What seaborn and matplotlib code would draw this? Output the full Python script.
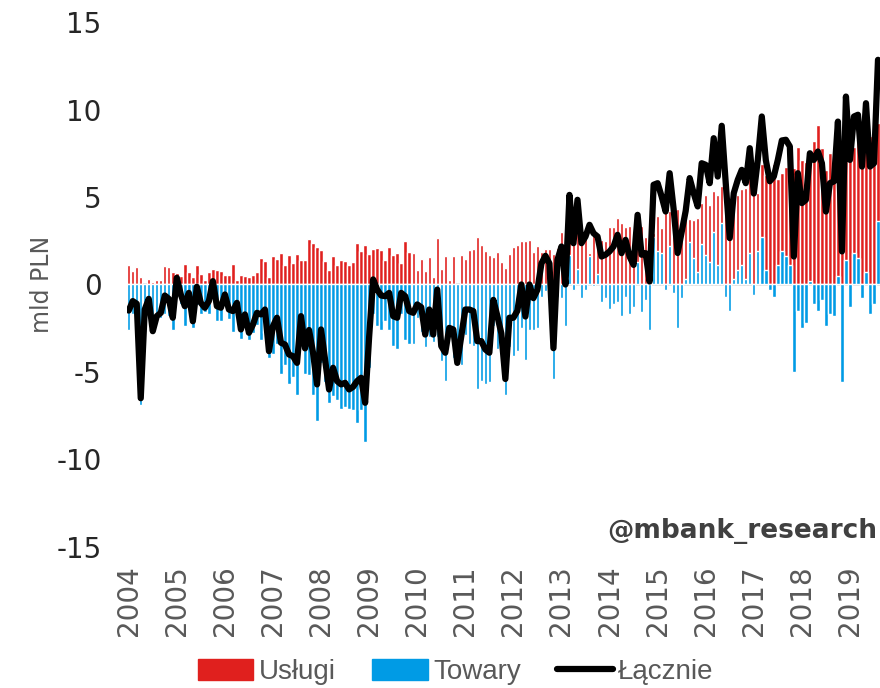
import numpy as np
import pandas as pd
import matplotlib
matplotlib.use("Agg")
import matplotlib.pyplot as plt
import seaborn as sns
from matplotlib.patches import Patch
from matplotlib.lines import Line2D

# monthly data, Jan 2004 - Aug 2019 (mld PLN)
uslugi = [
    1.14, 0.76, 0.99, 0.42, -0.1, 0.34, 0.15, 0.23, 0.23, 1.05,
    0.99, 0.7, 0.67, 0.5, 1.18, 0.7, 0.4, 1.09, 0.61, 0.27,
    0.7, 0.86, 0.84, 0.76, 0.53, 0.53, 1.16, 0.23, 0.55, 0.48,
    0.42, 0.55, 0.72, 1.49, 1.37, 0.42, 1.62, 1.47, 1.81, 1.14,
    1.66, 1.24, 1.77, 1.39, 1.41, 2.61, 2.38, 2.13, 1.96, 1.33,
    0.8, 1.62, 1.09, 1.39, 1.33, 1.1, 1.31, 2.38, 1.9, 2.27,
    1.77, 2.0, 2.1, 1.98, 1.39, 2.15, 1.7, 1.81, 1.24, 2.48,
    1.85, 1.79, 0.8, 1.43, 0.78, 1.58, 0.44, 2.67, 0.86, 1.62,
    0.23, 1.6, 0.05, 1.66, 1.47, 1.96, 2.0, 2.74, 2.27, 1.94,
    1.7, 1.55, 1.85, 1.26, 0.93, 1.73, 2.17, 2.27, 2.51, 2.51,
    2.55, 1.85, 2.21, 1.85, 2.02, 2.02, 1.75, 2.11, 2.99, 2.4,
    3.42, 2.66, 3.91, 3.14, 3.04, 1.8, 3.0, 2.19, 2.57, 2.46,
    3.28, 3.3, 3.8, 3.54, 3.28, 3.35, 2.38, 2.67, 3.34, 2.7,
    2.82, 2.96, 3.9, 3.2, 4.5, 4.19, 4.76, 4.3, 3.8, 3.9,
    3.72, 3.68, 3.81, 4.66, 5.11, 4.53, 5.33, 5.1, 5.6, 6.53,
    4.1, 4.92, 5.14, 5.48, 5.52, 6.0, 5.8, 5.25, 6.86, 6.28,
    6.2, 6.86, 6.05, 6.36, 6.71, 6.77, 6.63, 7.86, 7.11, 7.01,
    7.27, 8.19, 9.14, 7.81, 6.53, 7.52, 7.72, 8.85, 7.45, 9.37,
    8.38, 7.85, 8.25, 7.58, 9.62, 8.47, 8.03, 9.24,
]

towary = [
    -2.6, -1.7, -2.1, -6.9, -1.3, -1.2, -2.8, -2.0, -1.9, -1.7,
    -1.8, -2.6, -0.3, -1.1, -2.4, -1.2, -2.5, -1.2, -1.7, -1.6,
    -1.7, -0.7, -2.1, -2.1, -1.1, -2.0, -2.7, -1.3, -3.1, -2.2,
    -3.2, -2.8, -2.3, -3.2, -2.8, -4.2, -4.0, -3.4, -5.1, -4.6,
    -5.7, -5.3, -6.3, -3.2, -5.1, -5.2, -6.3, -7.8, -4.5, -5.6,
    -6.8, -6.4, -6.6, -7.1, -7.0, -7.1, -7.2, -7.9, -7.2, -9.0,
    -4.8, -1.7, -2.4, -2.6, -2.1, -2.6, -3.5, -3.7, -1.7, -3.2,
    -3.4, -3.4, -1.9, -2.7, -3.6, -3.0, -3.3, -3.0, -4.4, -5.5,
    -2.7, -4.2, -4.5, -4.6, -2.9, -3.4, -3.5, -6.0, -5.5, -5.7,
    -5.6, -2.4, -3.7, -4.1, -6.3, -3.6, -4.1, -3.8, -2.5, -4.3,
    -2.6, -2.6, -2.5, -0.7, -0.4, -0.8, -5.4, -0.7, -0.8, -2.4,
    1.7, -0.3, 0.9, -0.8, -0.3, 1.6, -0.1, 0.6, -1.0, -0.8,
    -1.4, -1.1, -1.0, -1.8, -0.7, -1.7, -1.3, 1.3, -1.6, -0.9,
    -2.6, 2.7, 1.9, 1.8, -0.3, 2.2, -0.5, -2.5, -0.8, 0.3,
    2.4, 1.5, 0.7, 2.3, 1.7, 1.3, 3.0, 1.1, 3.5, -0.7,
    -1.5, 0.3, 0.8, 1.1, 0.3, 1.8, -0.6, 1.9, 2.7, 0.8,
    -0.3, -0.7, 1.1, 1.9, 1.6, 1.1, -5.0, -1.5, -2.5, -2.2,
    0.2, -1.1, -1.5, -0.9, -2.4, -1.7, -1.8, 0.5, -5.6, 1.4,
    -1.3, 1.8, 1.5, -0.8, 0.7, -1.7, -1.1, 3.6,
]

lacznie = [
    -1.49, -0.95, -1.1, -6.5, -1.43, -0.82, -2.67, -1.81, -1.62, -0.63,
    -0.82, -1.9, 0.38, -0.57, -1.24, -0.48, -2.1, -0.13, -1.05, -1.33,
    -0.95, 0.19, -1.24, -1.33, -0.57, -1.43, -1.52, -1.05, -2.57, -1.71,
    -2.76, -2.29, -1.62, -1.71, -1.43, -3.81, -2.38, -1.9, -3.33, -3.43,
    -4.0, -4.1, -4.48, -1.81, -3.65, -2.6, -3.9, -5.71, -2.57, -4.29,
    -6.0, -4.76, -5.52, -5.71, -5.62, -6.0, -5.85, -5.52, -5.33, -6.76,
    -3.0, 0.29, -0.29, -0.63, -0.67, -0.48, -1.81, -1.9, -0.48, -0.67,
    -1.52, -1.62, -1.14, -1.3, -2.86, -1.43, -2.86, -0.29, -3.52, -3.9,
    -2.48, -2.57, -4.48, -2.95, -1.43, -1.43, -1.52, -3.24, -3.24, -3.71,
    -3.9, -0.88, -1.8, -2.8, -5.4, -1.9, -1.9, -1.5, 0.0, -1.83,
    0.0, -0.78, -0.3, 1.2, 1.64, 1.2, -3.64, 1.41, 2.17, 0.0,
    5.12, 2.36, 4.84, 2.36, 2.74, 3.41, 2.93, 2.74, 1.6, 1.7,
    1.89, 2.17, 2.84, 1.79, 2.55, 1.6, 1.12, 3.98, 1.7, 1.79,
    0.17, 5.7, 5.79, 5.03, 4.17, 6.36, 4.3, 1.8, 3.0, 4.2,
    6.08, 5.22, 4.46, 6.93, 6.84, 5.79, 8.36, 6.17, 9.07, 5.79,
    2.65, 5.22, 5.98, 6.55, 5.79, 7.79, 5.2, 7.12, 9.6, 7.12,
    5.9, 6.17, 7.12, 8.23, 8.27, 7.89, 1.6, 6.36, 4.65, 4.84,
    7.5, 7.12, 7.6, 6.93, 4.17, 5.79, 5.89, 9.31, 1.89, 10.74,
    7.12, 9.6, 9.7, 6.74, 10.36, 6.74, 6.93, 12.84,
]

years = [str(y) for y in range(2004, 2020)]

RED = "#E0201E"
BLUE = "#009BE5"

df = pd.DataFrame({"m": np.arange(len(lacznie)), "Usługi": uslugi,
                   "Towary": towary, "Łącznie": lacznie})

sns.set_style("white")
plt.rcParams["font.family"] = ["DejaVu Sans"]

fig = plt.figure(figsize=(8.8, 6.88), dpi=100)
ax = fig.add_axes([0.144, 0.205, 0.856, 0.763])

ax.axhline(0, color="#D9D9D9", lw=2, zorder=0)
sns.barplot(data=df, x="m", y="Usługi", color=RED, saturation=1,
            width=0.85, errorbar=None, ax=ax, zorder=2)
sns.barplot(data=df, x="m", y="Towary", color=BLUE, saturation=1,
            width=0.85, errorbar=None, ax=ax, zorder=3)
sns.lineplot(data=df, x="m", y="Łącznie", color="black", lw=4.5,
             ax=ax, zorder=4)

ax.set_xlim(-0.5, len(lacznie) - 0.5)
ax.set_ylim(-15, 15)
ax.set_yticks(range(-15, 16, 5))
ax.set_yticklabels([str(v) for v in range(-15, 16, 5)], fontsize=20,
                   color="#262626")
ax.set_xticks(range(0, len(lacznie), 12))
ax.set_xticklabels(years, rotation=90, fontsize=20, color="#595959")
ax.tick_params(axis="y", length=0, pad=18)
ax.tick_params(axis="x", length=0, pad=13)
ax.set_xlabel("")
ax.set_ylabel("mld PLN", fontsize=17, color="#595959", labelpad=2)
for s in ax.spines.values():
    s.set_visible(False)

ax.text(0.997, 0.03, "@mbank_research", transform=ax.transAxes,
        ha="right", va="center", fontsize=19, fontweight="bold",
        color="#404040")

handles = [Patch(color=RED, label="Usługi"),
           Patch(color=BLUE, label="Towary"),
           Line2D([0], [0], color="black", lw=4.5, label="Łącznie")]
fig.legend(handles=handles, loc="center", bbox_to_anchor=(0.518, 0.023),
           ncol=3, frameon=False, handlelength=2.0, handleheight=0.75,
           handletextpad=0.2, columnspacing=1.3,
           prop={"family": ["Liberation Sans", "DejaVu Sans"], "size": 20},
           labelcolor="#595959")

fig.savefig("out.png", dpi=100)
